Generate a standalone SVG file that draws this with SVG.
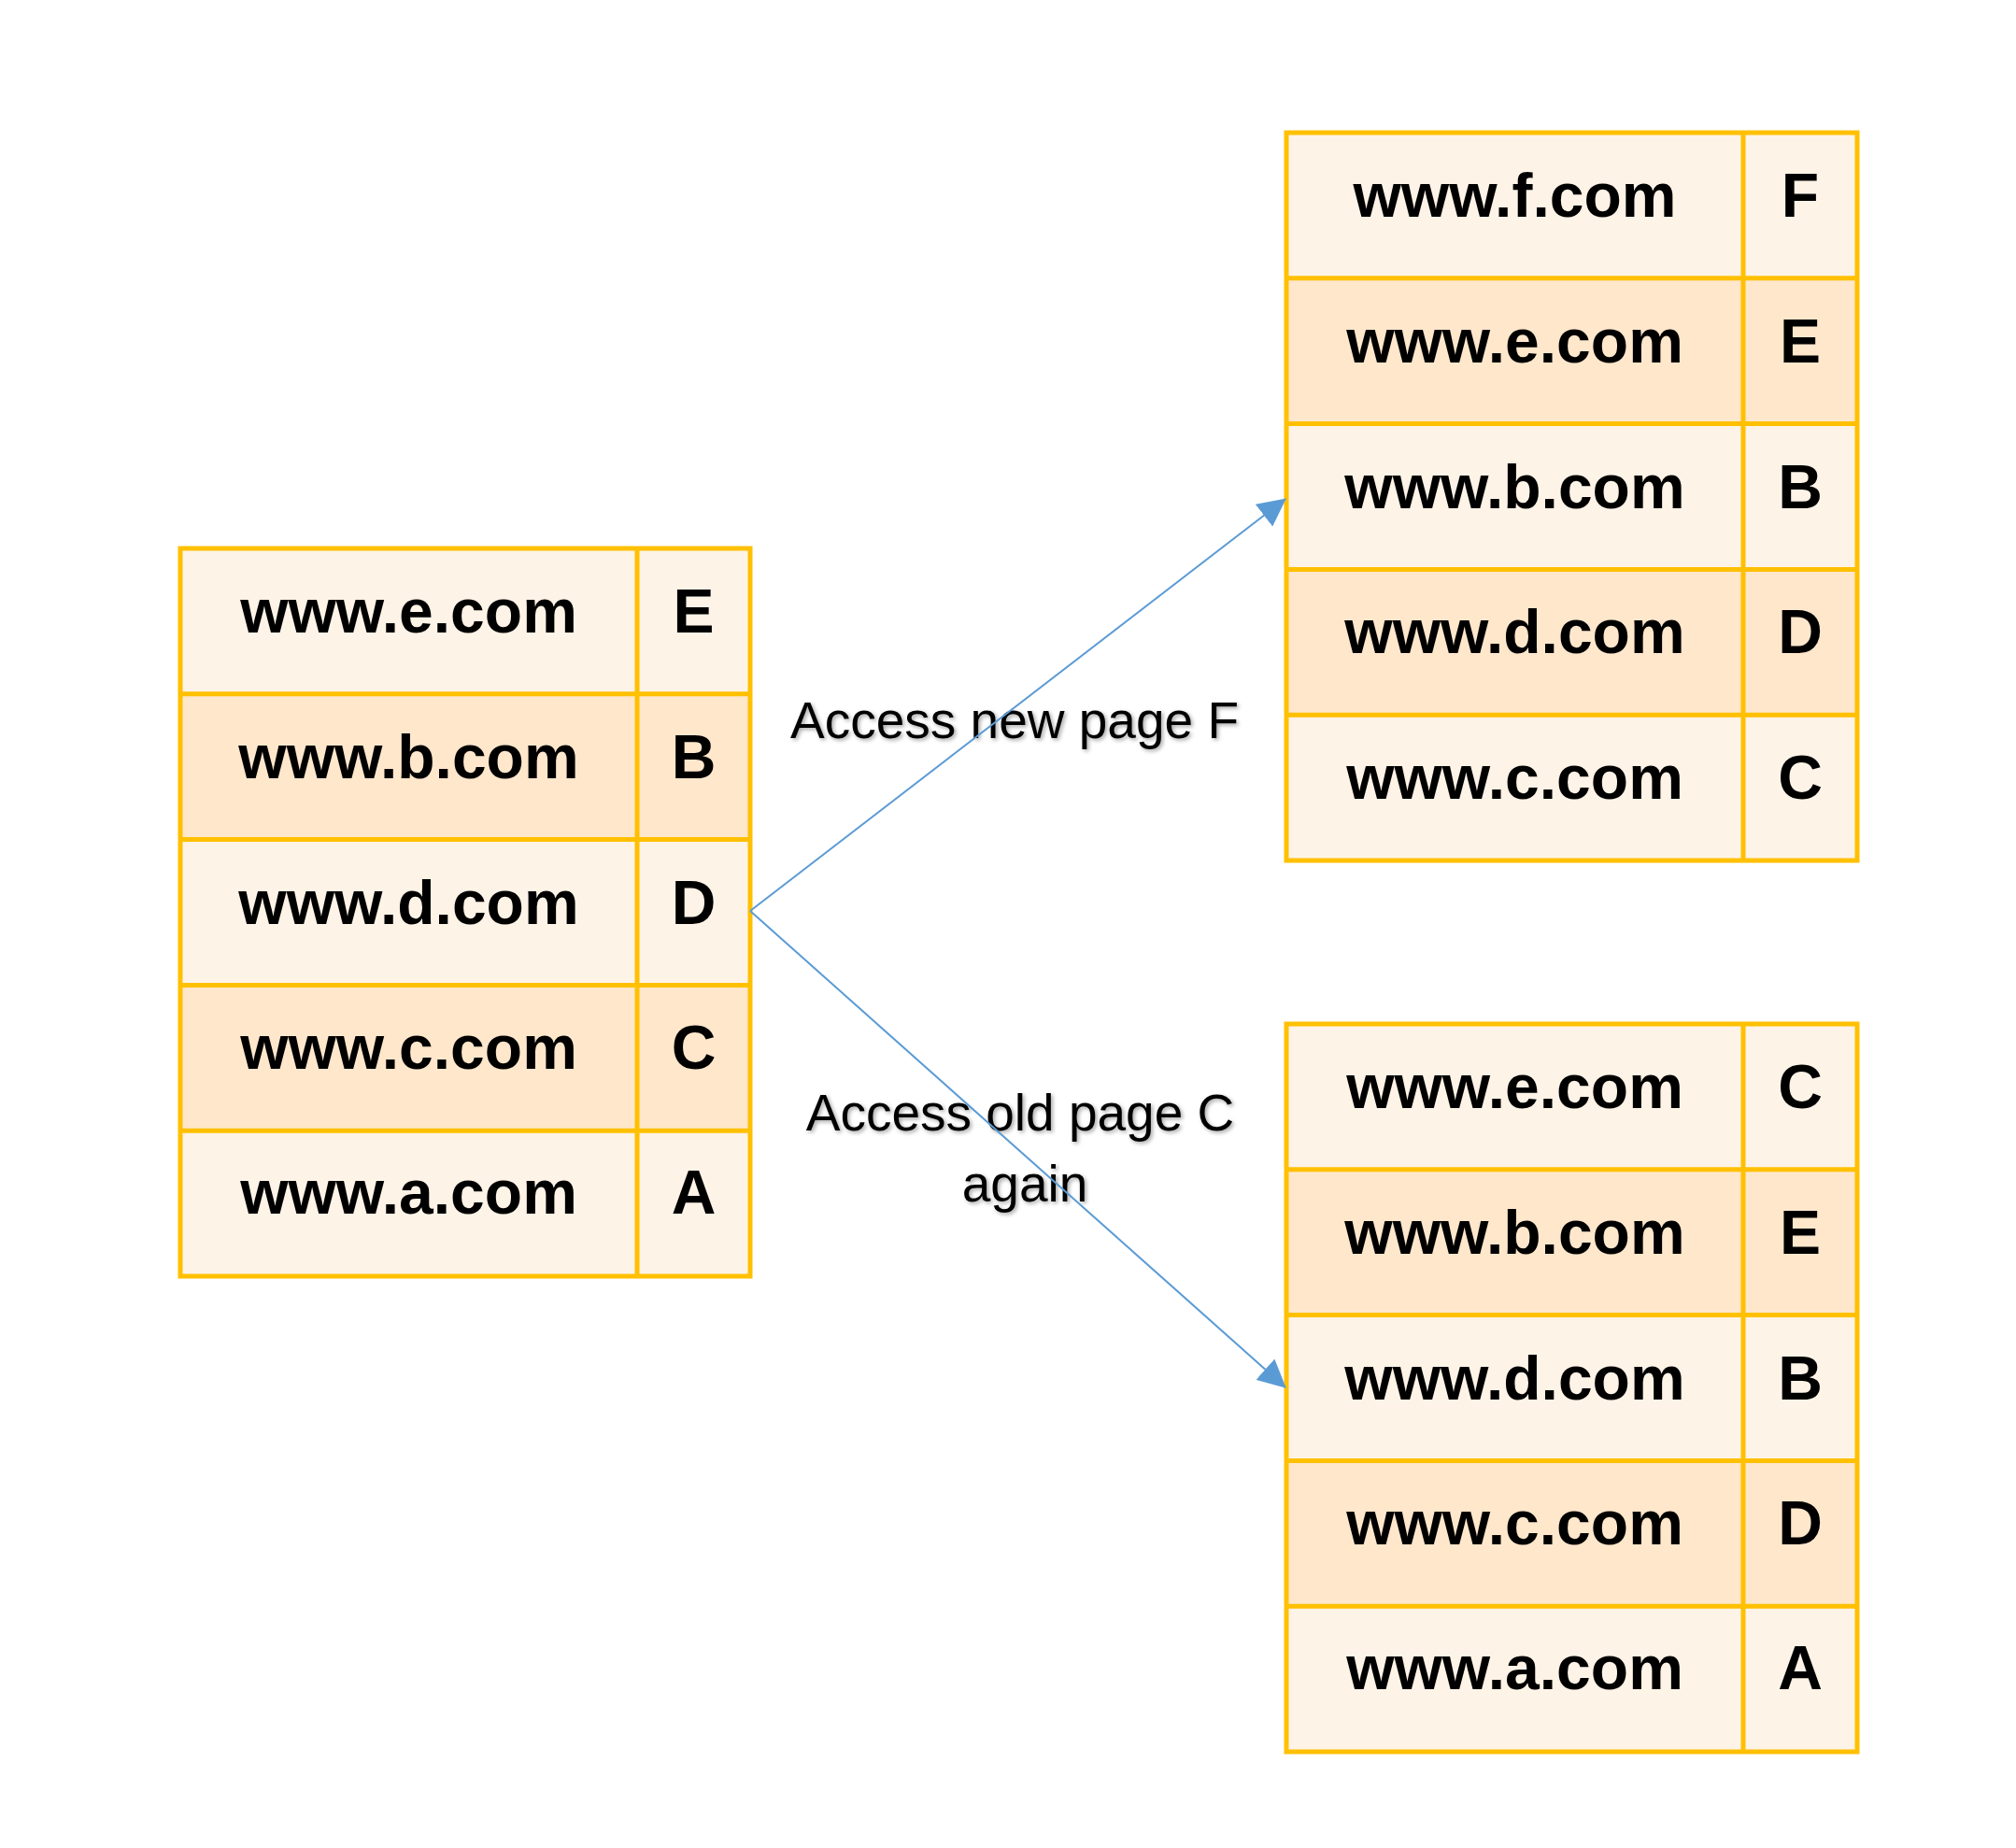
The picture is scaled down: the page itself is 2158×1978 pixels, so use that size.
<svg xmlns="http://www.w3.org/2000/svg" width="2158" height="1978" viewBox="0 0 2158 1978">
<style>
.bg{fill:#ffffff}
.lt{fill:#FEF3E7}
.dk{fill:#FFE7CC}
.grid{fill:none;stroke:#FFC000;stroke-width:5}
.cell{font-family:"Liberation Sans",Arial,sans-serif;font-weight:bold;font-size:66px;fill:#000;text-anchor:middle}
.lbl{font-family:"Liberation Sans",Arial,sans-serif;font-size:55px;fill:#000;text-anchor:middle}
.conn{fill:none;stroke:#5B9BD5;stroke-width:2}
</style>
<defs>
<marker id="arrow" markerUnits="userSpaceOnUse" markerWidth="30" markerHeight="30" viewBox="0 0 30 30" refX="29" refY="15" orient="auto">
<path d="M0,0 L30,15 L0,30 z" fill="#5B9BD5"/>
</marker>
<filter id="shadow" x="-10%" y="-20%" width="120%" height="150%">
<feDropShadow dx="2" dy="2" stdDeviation="2" flood-color="#000" flood-opacity="0.35"/>
</filter>
</defs>
<rect class="bg" x="0" y="0" width="2158" height="1978"/>

<g id="table-before">
<rect class="lt" x="193" y="587" width="610" height="155.8"/>
<rect class="dk" x="193" y="742.8" width="610" height="155.8"/>
<rect class="lt" x="193" y="898.6" width="610" height="155.8"/>
<rect class="dk" x="193" y="1054.4" width="610" height="155.8"/>
<rect class="lt" x="193" y="1210.2" width="610" height="155.8"/>
<rect class="grid" x="193" y="587" width="610" height="779"/>
<path class="grid" d="M682,587V1366 M193,742.8H803 M193,898.6H803 M193,1054.4H803 M193,1210.2H803"/>
<text class="cell" x="437.5" y="677">www.e.com</text><text class="cell" x="742.5" y="677">E</text>
<text class="cell" x="437.5" y="832.8">www.b.com</text><text class="cell" x="742.5" y="832.8">B</text>
<text class="cell" x="437.5" y="988.6">www.d.com</text><text class="cell" x="742.5" y="988.6">D</text>
<text class="cell" x="437.5" y="1144.4">www.c.com</text><text class="cell" x="742.5" y="1144.4">C</text>
<text class="cell" x="437.5" y="1299.2">www.a.com</text><text class="cell" x="742.5" y="1299.2">A</text>
</g>

<g id="table-new-page">
<rect class="lt" x="1377" y="142" width="611" height="155.8"/>
<rect class="dk" x="1377" y="297.8" width="611" height="155.8"/>
<rect class="lt" x="1377" y="453.6" width="611" height="155.8"/>
<rect class="dk" x="1377" y="609.4" width="611" height="155.8"/>
<rect class="lt" x="1377" y="765.2" width="611" height="155.8"/>
<rect class="grid" x="1377" y="142" width="611" height="779"/>
<path class="grid" d="M1866,142V921 M1377,297.8H1988 M1377,453.6H1988 M1377,609.4H1988 M1377,765.2H1988"/>
<text class="cell" x="1621.5" y="232">www.f.com</text><text class="cell" x="1927" y="232">F</text>
<text class="cell" x="1621.5" y="387.8">www.e.com</text><text class="cell" x="1927" y="387.8">E</text>
<text class="cell" x="1621.5" y="543.6">www.b.com</text><text class="cell" x="1927" y="543.6">B</text>
<text class="cell" x="1621.5" y="699.4">www.d.com</text><text class="cell" x="1927" y="699.4">D</text>
<text class="cell" x="1621.5" y="855.2">www.c.com</text><text class="cell" x="1927" y="855.2">C</text>
</g>

<g id="table-old-page">
<rect class="lt" x="1377" y="1096" width="611" height="155.8"/>
<rect class="dk" x="1377" y="1251.8" width="611" height="155.8"/>
<rect class="lt" x="1377" y="1407.6" width="611" height="155.8"/>
<rect class="dk" x="1377" y="1563.4" width="611" height="155.8"/>
<rect class="lt" x="1377" y="1719.2" width="611" height="155.8"/>
<rect class="grid" x="1377" y="1096" width="611" height="779"/>
<path class="grid" d="M1866,1096V1875 M1377,1251.8H1988 M1377,1407.6H1988 M1377,1563.4H1988 M1377,1719.2H1988"/>
<text class="cell" x="1621.5" y="1186">www.e.com</text><text class="cell" x="1927" y="1186">C</text>
<text class="cell" x="1621.5" y="1341.8">www.b.com</text><text class="cell" x="1927" y="1341.8">E</text>
<text class="cell" x="1621.5" y="1497.6">www.d.com</text><text class="cell" x="1927" y="1497.6">B</text>
<text class="cell" x="1621.5" y="1653.4">www.c.com</text><text class="cell" x="1927" y="1653.4">D</text>
<text class="cell" x="1621.5" y="1808.2">www.a.com</text><text class="cell" x="1927" y="1808.2">A</text>
</g>

<g id="labels" filter="url(#shadow)">
<text class="lbl" x="1086" y="790">Access new page F</text>
<text class="lbl" x="1092" y="1210">Access old page C</text>
<text class="lbl" x="1097" y="1286">again</text>
</g>

<g id="connectors">
<path class="conn" d="M803,975 L1376,534" marker-end="url(#arrow)"/>
<path class="conn" d="M803,975 L1376,1485" marker-end="url(#arrow)"/>
</g>
</svg>
